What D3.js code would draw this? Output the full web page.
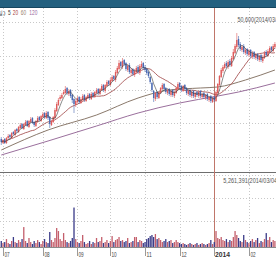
<!DOCTYPE html>
<html>
<head>
<meta charset="utf-8">
<script src="https://cdn.jsdelivr.net/npm/d3@7"></script>
<style>
html, body { margin: 0; padding: 0; background: #fff; }
svg { display: block; font-family: "Liberation Sans", Arial, sans-serif; }
</style>
</head>
<body>
<div id="chart"></div>
<script>
// prices in hundreds of won, one entry per trading day (Jul 2013 - early Mar 2014)
var opens = [400,396,400,396,401,404,401,407,404,410,
407,411,415,410,414,418,412,417,421,417,
413,417,422,418,422,426,421,427,422,414,
417,421,428,434,440,441,445,446,451,445,
449,444,440,434,437,442,436,439,444,438,
441,445,440,446,442,446,450,445,449,454,
448,453,458,454,458,463,459,466,470,477,
472,479,476,469,474,466,470,464,467,472,
466,472,476,472,470,467,462,456,448,440,
447,441,446,450,455,451,446,450,444,449,
443,446,450,456,453,448,454,451,445,449,
443,448,442,447,443,448,442,446,441,445,
439,443,437,442,438,446,454,462,468,471,
476,472,478,473,480,486,492,500,495,489,
493,486,490,484,489,482,487,481,485,479,
484,478,481,487,483,487,492,488,492];

var highs = [402,400,401,402,405,405,407,408,410,411,
413,416,416,416,419,419,419,422,422,418,
419,423,423,424,427,427,428,428,423,419,
423,431,437,441,444,446,449,453,452,450,
450,445,441,440,443,443,442,445,445,443,
446,446,447,447,448,451,451,451,455,455,
455,459,459,461,464,464,469,473,479,478,
481,480,477,475,476,471,471,470,473,474,
475,478,477,474,471,468,463,457,449,447,
448,448,452,456,456,452,450,451,449,450,
448,452,457,457,454,454,455,452,449,450,
448,449,447,448,448,449,446,447,445,446,
443,444,442,443,448,456,464,471,474,477,
478,479,480,483,490,495,506,503,497,494,
495,491,491,490,490,488,488,486,486,484,
485,484,488,489,490,493,493,495,497];

var lows = [394,395,395,395,400,400,400,404,403,406,
406,410,410,409,413,412,411,416,415,412,
412,416,418,417,421,420,420,419,411,413,
416,420,427,433,438,440,444,445,444,443,
441,436,426,432,436,435,435,438,437,437,
440,439,439,441,441,445,444,444,448,447,
446,452,453,453,457,458,457,465,469,471,
470,473,468,467,465,464,463,462,465,465,
464,471,469,467,464,461,455,447,437,438,
440,440,445,449,448,445,444,443,442,442,
441,445,449,450,447,447,449,444,443,442,
441,441,440,442,441,441,440,440,439,438,
437,436,436,437,437,445,453,461,466,470,
471,470,472,472,479,485,490,492,488,487,
485,484,483,482,481,480,480,479,478,477,
477,476,480,482,482,486,487,487,490];

var closes = [397,399,396,401,403,402,406,405,409,408,
412,414,411,415,417,413,418,420,416,414,
418,421,419,423,425,422,426,421,415,418,
422,429,435,439,442,444,447,450,446,448,
443,439,435,438,441,437,440,443,439,442,
444,441,445,443,447,449,446,450,453,449,
454,457,455,459,462,460,467,471,476,473,
478,475,470,473,467,469,465,468,471,467,
473,475,471,469,466,463,457,449,441,446,
442,447,451,454,450,447,449,445,448,444,
447,451,455,452,449,453,450,446,448,444,
447,443,446,444,447,443,445,442,444,440,
442,438,441,439,447,455,463,469,472,475,
473,477,474,481,487,493,499,494,490,492,
487,489,485,488,483,486,482,484,480,483,
479,482,486,484,488,491,489,493,495];

// volume in thousands of shares
var volumes = [800,530,660,1060,530,400,800,1330,660,530,
930,660,1060,2660,800,530,1200,660,400,800,
530,930,660,400,800,1060,660,530,2000,930,
660,1200,2530,2130,1060,800,1860,930,660,530,
800,1200,5261,1060,660,530,800,1600,660,400,
530,800,400,660,530,1200,660,800,1330,530,
660,930,530,800,1460,660,930,1060,1330,800,
930,660,800,1200,530,660,800,1330,1330,660,
930,800,530,660,1060,1200,1460,1600,1330,1730,
1060,1200,930,660,800,1060,660,800,930,530,
660,930,660,530,400,530,400,270,400,530,
400,270,400,530,270,400,530,400,270,400,
530,930,400,660,2130,1200,1060,1330,930,800,
1060,660,930,800,1330,2130,1600,1200,800,660,
1600,930,660,530,800,1060,660,930,1200,530,
800,660,1060,1860,930,1330,660,930,800];

// long moving averages (day index, price)
var ma60Idx = [0, 27, 55, 79, 97, 115, 125, 141, 158];
var ma60Val = [389, 409, 424, 441, 449, 451, 452, 459, 469];
var ma120Idx = [0, 27, 55, 79, 103, 125, 137, 158];
var ma120Val = [384, 398, 413, 426, 436, 443, 447, 456];

var monthIdx = [1, 24, 44, 63, 83, 103, 123, 143];
var monthLabels = ["07", "08", "09", "10", "11", "12", "2014", "02"];
var crossIdx = 123;

var width = 276, height = 260;
var priceTop = 8, sepY = 172, volBase = 247;

var svg = d3.select("#chart").append("svg")
  .attr("width", width)
  .attr("height", height);

var x = d3.scaleLinear().domain([0, closes.length - 1]).range([1.27, 274.9]);
var yPrice = d3.scaleLinear().domain([372, 522]).range([167, 17]);
var yVol = d3.scaleLinear().domain([0, 9600]).range([volBase, 175]);

var upColor = "#de5c5c", downColor = "#4a69b2";
var volUp = "#c45f6c", volDown = "#3a3a88";

// title strip
svg.append("rect").attr("x", 0).attr("y", 0).attr("width", width).attr("height", 7).attr("fill", "#23607f");
svg.append("line").attr("x1", 0).attr("x2", width).attr("y1", 7.5).attr("y2", 7.5).attr("stroke", "#15465f");

// grid
var grid = svg.append("g").attr("stroke", "#c8c8c8").attr("stroke-dasharray", "1,2").attr("stroke-width", 1);
[22, 56, 90, 123, 157, 175, 198, 221].forEach(function(gy) {
  grid.append("line").attr("x1", 0).attr("x2", width).attr("y1", gy + 0.5).attr("y2", gy + 0.5);
});
monthIdx.forEach(function(i) {
  var gx = Math.round(x(i)) + 0.5;
  grid.append("line").attr("x1", gx).attr("x2", gx).attr("y1", priceTop).attr("y2", volBase);
});

// pane separator and base line
svg.append("line").attr("x1", 0).attr("x2", width).attr("y1", sepY + 0.5).attr("y2", sepY + 0.5).attr("stroke", "#6e6e6e");
svg.append("line").attr("x1", 0).attr("x2", width).attr("y1", volBase + 0.5).attr("y2", volBase + 0.5).attr("stroke", "#8a8a8a");

// crosshair
var cx = Math.round(x(crossIdx)) + 0.5;
svg.append("line").attr("x1", cx).attr("x2", cx).attr("y1", priceTop).attr("y2", volBase)
  .attr("stroke", "#c0766a").attr("stroke-width", 1);

// moving averages
function trailing(n) {
  return closes.map(function(c, i) {
    var s = closes.slice(Math.max(0, i - n + 1), i + 1);
    return d3.mean(s);
  });
}
var ma5 = trailing(5), ma20 = trailing(20);

var lineIdx = d3.line().x(function(d, i) { return x(i); }).y(function(d) { return yPrice(d); });
var lineSparse = d3.line().curve(d3.curveMonotoneX)
  .x(function(d) { return x(d[0]); }).y(function(d) { return yPrice(d[1]); });

svg.append("path").datum(ma120Idx.map(function(d, i) { return [d, ma120Val[i]]; }))
  .attr("d", lineSparse).attr("fill", "none").attr("stroke", "#8e5f91").attr("stroke-width", 0.9);
svg.append("path").datum(ma60Idx.map(function(d, i) { return [d, ma60Val[i]]; }))
  .attr("d", lineSparse).attr("fill", "none").attr("stroke", "#7d6a5a").attr("stroke-width", 0.9);
svg.append("path").datum(ma20)
  .attr("d", lineIdx).attr("fill", "none").attr("stroke", "#9c3f3f").attr("stroke-width", 0.8);

// candles
var candles = svg.append("g").selectAll("g").data(closes).enter().append("g");
candles.append("line")
  .attr("x1", function(d, i) { return x(i); })
  .attr("x2", function(d, i) { return x(i); })
  .attr("y1", function(d, i) { return yPrice(highs[i]); })
  .attr("y2", function(d, i) { return yPrice(lows[i]); })
  .attr("stroke", function(d, i) { return d >= opens[i] ? upColor : downColor; })
  .attr("stroke-width", 0.6);
candles.append("rect")
  .attr("x", function(d, i) { return x(i) - 0.7; })
  .attr("width", 1.4)
  .attr("y", function(d, i) { return yPrice(Math.max(d, opens[i])); })
  .attr("height", function(d, i) { return Math.max(0.8, Math.abs(yPrice(d) - yPrice(opens[i]))); })
  .attr("fill", function(d, i) { return d >= opens[i] ? upColor : downColor; });

svg.append("path").datum(ma5)
  .attr("d", lineIdx).attr("fill", "none").attr("stroke", "#3a3a3a").attr("stroke-width", 0.6);

// volume
svg.append("g").selectAll("rect").data(volumes).enter().append("rect")
  .attr("x", function(d, i) { return x(i) - 0.65; })
  .attr("width", 1.3)
  .attr("y", function(d) { return yVol(d); })
  .attr("height", function(d) { return volBase - yVol(d); })
  .attr("fill", function(d, i) { return closes[i] >= opens[i] ? volUp : volDown; });

// texts
function label(txt, tx, ty, per, color, bold) {
  return svg.append("text").attr("x", tx).attr("y", ty)
    .attr("font-size", "7px")
    .attr("font-weight", bold ? "bold" : "normal")
    .attr("fill", color)
    .attr("textLength", txt.length * per)
    .attr("lengthAdjust", "spacingAndGlyphs")
    .text(txt);
}

svg.append("text").attr("x", 5.5).attr("y", 15).attr("text-anchor", "end")
  .attr("font-size", "6px").attr("fill", "#444").text("(일)");
label("5", 8, 15, 2.7, "#3a3a3a");
label("20", 12.8, 15, 2.7, "#a8443e");
label("60", 20.8, 15, 2.7, "#9a8270");
label("120", 29.3, 15, 2.7, "#9a6aa0");

label("50,600(2014/03/04)", 237.5, 22, 2.6, "#555");
label("5,261,391(2014/03/04)", 223.3, 183, 2.65, "#555");

// month ticks and labels
monthIdx.forEach(function(i, k) {
  var gx = Math.round(x(i)) + 0.5;
  svg.append("line").attr("x1", gx).attr("x2", gx).attr("y1", volBase).attr("y2", 256)
    .attr("stroke", "#9a9a9a");
  var t = monthLabels[k];
  if (t.length === 4) label(t, gx + 0.5, 257, 3.75, "#333", true);
  else label(t, gx + 1, 257, 2.6, "#444");
});
</script>
</body>
</html>
